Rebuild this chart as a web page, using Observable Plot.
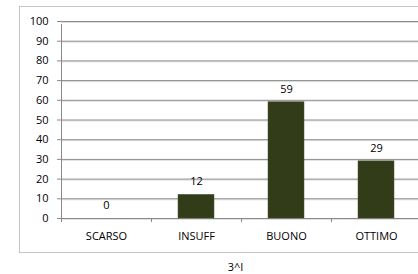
<!DOCTYPE html>
<html>
<head>
<meta charset="utf-8">
<script src="https://cdn.jsdelivr.net/npm/d3@7"></script>
<script src="https://cdn.jsdelivr.net/npm/@observablehq/plot@0.6"></script>
<style>
  html, body { margin: 0; padding: 0; background: #fff; overflow: hidden; width: 418px; height: 274px; }
  #box { position: absolute; left: 19px; top: 6px; width: 431px; height: 245px; border: 1px solid #c4c4c4; background: #fff; }
  #chart { position: absolute; left: 0; top: 0; }
  #caption { position: absolute; left: 19px; width: 433px; top: 259px; text-align: center;
    font: 11px "Open Sans", sans-serif; color: #000; }
</style>
</head>
<body>
<div id="box"><div id="chart"></div></div>
<div id="caption"></div>
<script>
const categories = ["SCARSO", "INSUFF", "BUONO", "OTTIMO"];
const values = [0, 12, 59, 29];
const yTicks = [0, 10, 20, 30, 40, 50, 60, 70, 80, 90, 100];
const captionText = "3^I";

const data = categories.map((c, i) => ({cat: c, v: values[i]}));

const W = 431, H = 245, mL = 41, mR = 30, mT = 14, mB = 34;
const step = (W - mL - mR) / categories.length;

const chart = Plot.plot({
  width: W,
  height: H,
  marginLeft: mL,
  marginRight: mR,
  marginTop: mT,
  marginBottom: mB,
  style: {fontFamily: "'Open Sans', sans-serif", fontSize: "11px", color: "#000", background: "transparent"},
  x: {domain: categories, paddingInner: 0.6, paddingOuter: 0.3, label: null},
  y: {domain: [0, 100], label: null},
  marks: [
    Plot.ruleY(yTicks, {stroke: "#e0e0e0", dy: 1}),
    Plot.ruleY(yTicks, {stroke: "#8a8a8a"}),
    Plot.barY(data, {x: "cat", y: "v", fill: "#333c18", stroke: "#4a5430", strokeWidth: 0.5}),
    Plot.text(data, {x: "cat", y: "v", text: d => String(d.v), dy: -13, fontSize: 11, fill: "#000"}),
    Plot.axisY({ticks: yTicks, tickSize: 4, tickPadding: 9, stroke: "#8a8a8a", fill: "#000", label: null, fontSize: 11}),
    Plot.axisX({tickSize: 0, tickPadding: 14, fill: "#000", label: null, fontSize: 11}),
    Plot.ruleX(categories, {x: d => d, y1: 0, y2: 0, insetBottom: -4, dx: -step / 2, stroke: "#8a8a8a"}),
    Plot.ruleX([categories[0]], {x: d => d, y1: 0, y2: 100, insetBottom: -3, dx: -step / 2, stroke: "#8a8a8a"})
  ]
});
document.getElementById("chart").appendChild(chart);
document.getElementById("caption").textContent = captionText;
</script>
</body>
</html>
